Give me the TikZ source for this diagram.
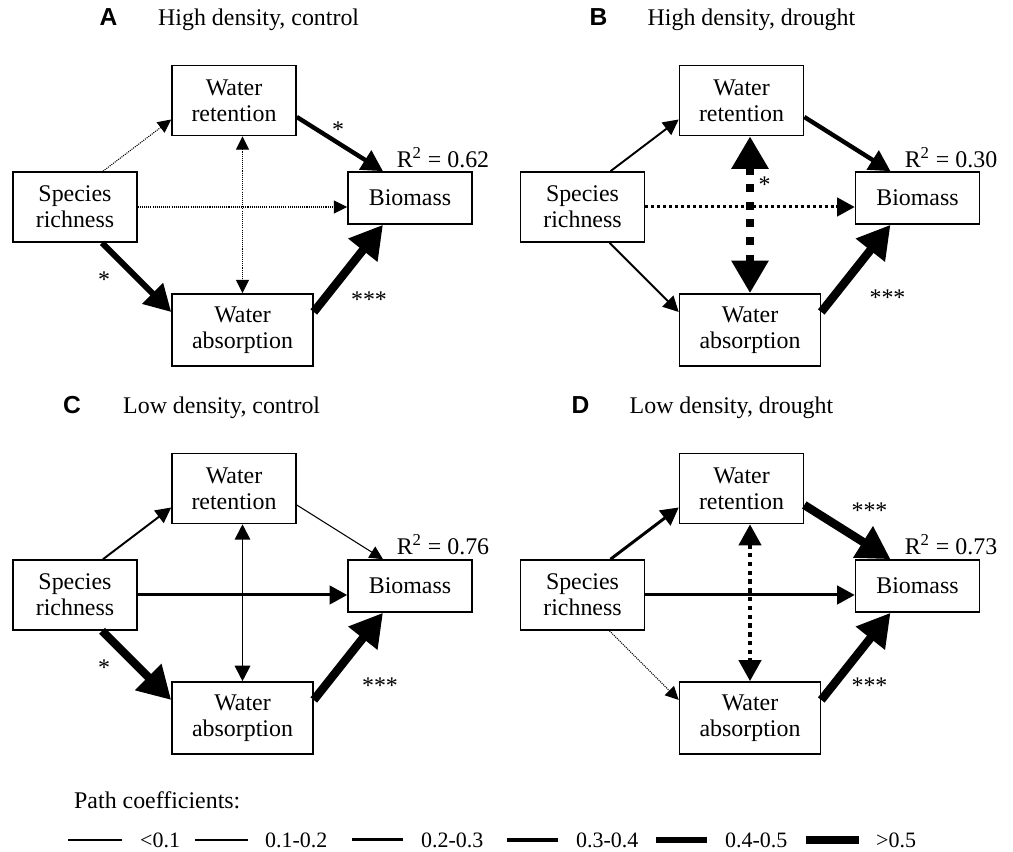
\documentclass[tikz,border=0pt]{standalone}
\usepackage{fontspec}
\setmainfont{Liberation Serif}
\newfontfamily\letra{Liberation Sans}
\usetikzlibrary{arrows.meta}

\tikzset{
  caixa/.style={draw, line width=0.9pt, minimum width=2.48cm, minimum height=1.4cm, align=center, inner sep=0pt},
  rotulo/.style={anchor=base, font=\letra\bfseries\fontsize{14}{16}\selectfont},
  titulo/.style={anchor=base west},
  legenda/.style={anchor=west, font=\fontsize{12.5}{14}\selectfont},
  pont/.style={dash pattern=on #1 off #1},
  c1/.style={line width=0.6pt, >={Triangle[length=7.6pt,width=7.4pt]}},
  c2/.style={line width=1.1pt, >={Triangle[length=8.8pt,width=8.8pt]}},
  c3/.style={line width=1.7pt, >={Triangle[length=10pt,width=10.5pt]}},
  c4/.style={line width=2.5pt, >={Triangle[length=12pt,width=12.5pt]}},
  c5/.style={line width=3.4pt, >={Triangle[length=15pt,width=16pt]}},
  c6/.style={line width=4.8pt, >={Triangle[length=18.5pt,width=20pt]}}
}

\begin{document}
\begin{tikzpicture}[every node/.style={font=\fontsize{13.6}{14.7}\selectfont}]
\useasboundingbox (0,0) rectangle (20.26,17.04);

% Painel A
\begin{scope}
    \node[rotulo] (letA) at (2.17,16.52) {A};
    \node[titulo] (titA) at (3.04,16.52) {High density, control};

    % Caixas
    \node[caixa] (ricA) at (1.50,12.90) {Species\\richness};
    \node[caixa] (retA) at (4.68,15.03) {Water\\retention};
    \node[caixa, minimum height=1.04cm] (bioA) at (8.20,13.08) {Biomass};
    \node[caixa, minimum width=2.82cm, minimum height=1.44cm] (absA) at (4.85,10.44) {Water\\absorption};

    % Setas
    \draw[c1, pont=0.6pt, ->] ([xshift=0.56cm]ricA.north) -- ([yshift=-0.38cm]retA.west);
    \draw[c1, pont=0.6pt, ->] (ricA.east) -- (ricA.east -| bioA.west);
    \draw[c1, pont=0.6pt, <->] (retA.south -| absA.north) -- (absA.north);
    \draw[c4, ->] ([yshift=-0.33cm]retA.east) -- ([xshift=-0.54cm]bioA.north);
    \draw[c5, ->] ([xshift=0.54cm]ricA.south) -- ([yshift=0.36cm]absA.west);
    \draw[c6, ->] ([yshift=0.36cm]absA.east) -- ([xshift=-0.54cm]bioA.south);

    % Significancia
    \node (sA1) at (6.76,14.44) {*};
    \node (sA2) at (2.08,11.44) {*};
    \node (sA3) at (7.38,11.04) {***};
    \node (rA) at (8.86,13.88) {R\textsuperscript{2} = 0.62};
\end{scope}

% Painel B
\begin{scope}[shift={(10.15,0)}]
    \node[rotulo] (letB) at (1.82,16.52) {B};
    \node[titulo] (titB) at (2.68,16.52) {High density, drought};

    % Caixas
    \node[caixa] (ricB) at (1.50,12.90) {Species\\richness};
    \node[caixa] (retB) at (4.68,15.03) {Water\\retention};
    \node[caixa, minimum height=1.04cm] (bioB) at (8.20,13.08) {Biomass};
    \node[caixa, minimum width=2.82cm, minimum height=1.44cm] (absB) at (4.85,10.44) {Water\\absorption};

    % Setas
    \draw[c2, ->] ([xshift=0.56cm]ricB.north) -- ([yshift=-0.38cm]retB.west);
    \draw[c3, pont=1.7pt, ->] (ricB.east) -- (ricB.east -| bioB.west);
    \draw[c6, dash pattern=on 4.5pt off 5.5pt, <->] (retB.south -| absB.north) -- (absB.north);
    \draw[c4, ->] ([yshift=-0.33cm]retB.east) -- ([xshift=-0.54cm]bioB.north);
    \draw[c2, ->] ([xshift=0.54cm]ricB.south) -- ([yshift=0.36cm]absB.west);
    \draw[c6, ->] ([yshift=0.36cm]absB.east) -- ([xshift=-0.54cm]bioB.south);

    % Significancia
    \node (sB1) at (5.14,13.34) {*};
    \node (sB2) at (7.60,11.08) {***};
    \node (rB) at (8.87,13.88) {R\textsuperscript{2} = 0.30};
\end{scope}

% Painel C
\begin{scope}[shift={(0,-7.76)}]
    \node[rotulo] (letC) at (1.44,16.52) {C};
    \node[titulo] (titC) at (2.34,16.52) {Low density, control};

    % Caixas
    \node[caixa] (ricC) at (1.50,12.90) {Species\\richness};
    \node[caixa] (retC) at (4.68,15.03) {Water\\retention};
    \node[caixa, minimum height=1.04cm] (bioC) at (8.20,13.08) {Biomass};
    \node[caixa, minimum width=2.82cm, minimum height=1.44cm] (absC) at (4.85,10.44) {Water\\absorption};

    % Setas
    \draw[c2, ->] ([xshift=0.56cm]ricC.north) -- ([yshift=-0.38cm]retC.west);
    \draw[c3, ->] (ricC.east) -- (ricC.east -| bioC.west);
    \draw[c2, <->] (retC.south -| absC.north) -- (absC.north);
    \draw[c1, ->] ([yshift=-0.33cm]retC.east) -- ([xshift=-0.54cm]bioC.north);
    \draw[c6, ->] ([xshift=0.54cm]ricC.south) -- ([yshift=0.36cm]absC.west);
    \draw[c6, ->] ([yshift=0.36cm]absC.east) -- ([xshift=-0.54cm]bioC.south);

    % Significancia
    \node (sC1) at (2.08,11.44) {*};
    \node (sC2) at (7.60,11.08) {***};
    \node (rC) at (8.86,13.90) {R\textsuperscript{2} = 0.76};
\end{scope}

% Painel D
\begin{scope}[shift={(10.15,-7.76)}]
    \node[rotulo] (letD) at (1.46,16.52) {D};
    \node[titulo] (titD) at (2.32,16.52) {Low density, drought};

    % Caixas
    \node[caixa] (ricD) at (1.50,12.90) {Species\\richness};
    \node[caixa] (retD) at (4.68,15.03) {Water\\retention};
    \node[caixa, minimum height=1.04cm] (bioD) at (8.20,13.08) {Biomass};
    \node[caixa, minimum width=2.82cm, minimum height=1.44cm] (absD) at (4.85,10.44) {Water\\absorption};

    % Setas
    \draw[c3, ->] ([xshift=0.56cm]ricD.north) -- ([yshift=-0.38cm]retD.west);
    \draw[c3, ->] (ricD.east) -- (ricD.east -| bioD.west);
    \draw[c4, pont=2.5pt, <->] (retD.south -| absD.north) -- (absD.north);
    \draw[c6, ->] ([yshift=-0.33cm]retD.east) -- ([xshift=-0.54cm]bioD.north);
    \draw[c1, pont=0.6pt, ->] ([xshift=0.54cm]ricD.south) -- ([yshift=0.36cm]absD.west);
    \draw[c6, ->] ([yshift=0.36cm]absD.east) -- ([xshift=-0.54cm]bioD.south);

    % Significancia
    \node (sD1) at (7.24,14.58) {***};
    \node (sD2) at (7.24,11.08) {***};
    \node (rD) at (8.87,13.90) {R\textsuperscript{2} = 0.73};
\end{scope}

% Legenda
\node[anchor=west] (leg) at (1.36,1.04) {Path coefficients:};
\draw[c1] (1.36,0.24) -- (2.44,0.24);
\node[legenda] (l1) at (2.68,0.24) {<0.1};
\draw[c2] (3.90,0.24) -- (4.96,0.24);
\node[legenda] (l2) at (5.18,0.24) {0.1-0.2};
\draw[c3] (7.04,0.24) -- (8.06,0.24);
\node[legenda] (l3) at (8.30,0.24) {0.2-0.3};
\draw[c4] (10.14,0.24) -- (11.16,0.24);
\node[legenda] (l4) at (11.40,0.24) {0.3-0.4};
\draw[c5] (13.12,0.24) -- (14.14,0.24);
\node[legenda] (l5) at (14.38,0.24) {0.4-0.5};
\draw[c6] (16.12,0.24) -- (17.18,0.24);
\node[legenda] (l6) at (17.40,0.24) {>0.5};

\end{tikzpicture}
\end{document}
